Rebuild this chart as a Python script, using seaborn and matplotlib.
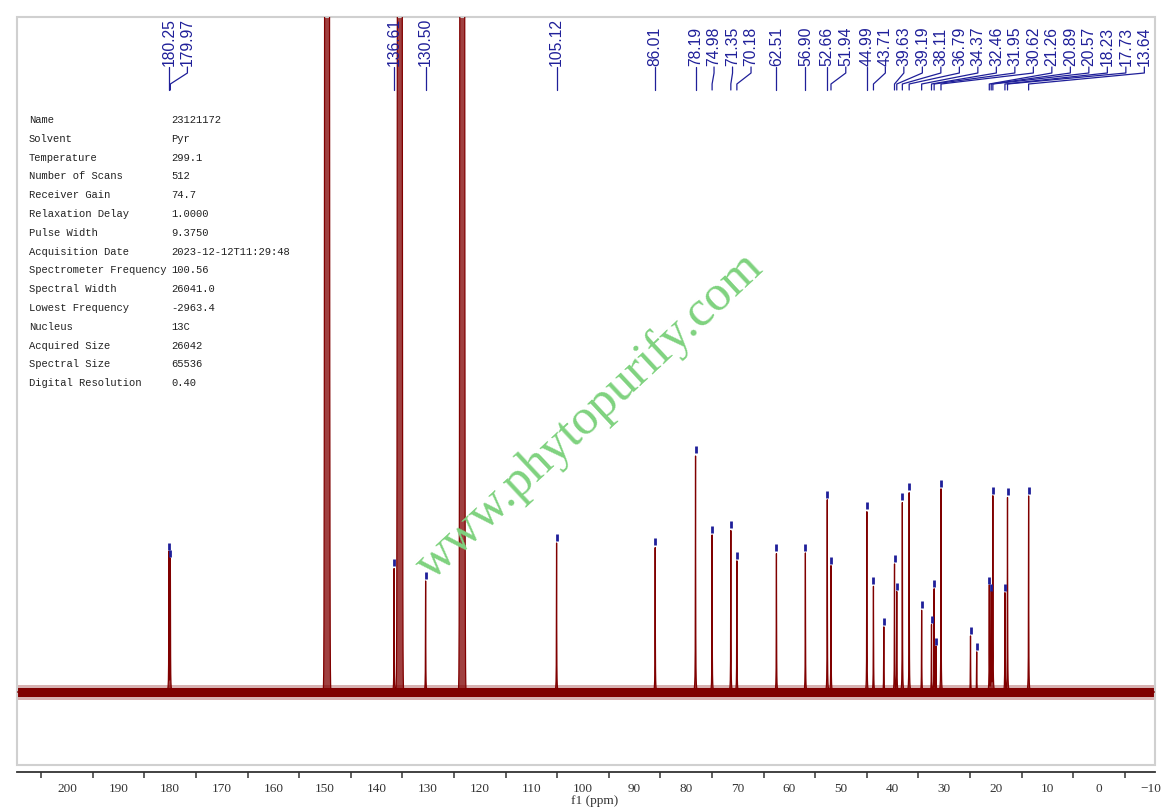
import numpy as np
import pandas as pd
import seaborn as sns
import matplotlib.pyplot as plt
import matplotlib.transforms as mtransforms
from matplotlib.patches import Rectangle

# picked 13C peaks (ppm) and heights above the baseline (arbitrary units)
label_shifts = [180.25, 179.97, 136.61, 130.50, 105.12, 86.01, 78.19, 74.98, 71.35, 70.18,
                62.51, 56.90, 52.66, 51.94, 44.99, 43.71, 39.63, 39.19, 38.11, 36.79,
                34.37, 32.46, 31.95, 30.62, 21.26, 20.89, 20.57, 18.23, 17.73, 13.64]
label_heights = [140, 133, 124, 111, 149, 145, 237, 157, 162, 131,
                 139, 139, 192, 126, 181, 106, 128, 100, 190, 200,
                 82, 67, 103, 203, 106, 99, 196, 99, 195, 196]

# small picked peaks that carry no label
minor_shifts = [41.70, 31.60, 24.90, 23.70]
minor_heights = [65, 45, 56, 40]

# pyridine-d5 solvent triplets (far off scale)
solvent_shifts = [149.6, 135.5, 123.4]
solvent_heights = [3000, 3000, 3000]

param_names = ["Name", "Solvent", "Temperature", "Number of Scans", "Receiver Gain",
               "Relaxation Delay", "Pulse Width", "Acquisition Date",
               "Spectrometer Frequency", "Spectral Width", "Lowest Frequency",
               "Nucleus", "Acquired Size", "Spectral Size", "Digital Resolution"]
param_values = ["23121172", "Pyr", "299.1", "512", "74.7", "1.0000", "9.3750",
                "2023-12-12T11:29:48", "100.56", "26041.0", "-2963.4", "13C",
                "26042", "65536", "0.40"]

RED = "#800000"
BLUE = "#1f1f99"
NOISE = 4.5
HWHM = 0.03
J_CD = 0.273

# build the spectrum from the peak list
ppm = np.arange(-10.9, 209.8, 0.004)
intensity = np.zeros_like(ppm)
for s, h in zip(label_shifts + minor_shifts, label_heights + minor_heights):
    intensity += h / (1 + ((ppm - s) / HWHM) ** 2)
for s, h in zip(solvent_shifts, solvent_heights):
    for d in (-J_CD, 0, J_CD):
        intensity += h * np.exp(-0.5 * ((ppm - s - d) / 0.12) ** 2)
spec = pd.DataFrame({"ppm": ppm, "intensity": intensity})

sns.set_theme(style="white")
plt.rcParams["font.family"] = ["Liberation Sans", "DejaVu Sans"]

W, H = 1161, 808
fig, ax = plt.subplots(figsize=(W / 100, H / 100), dpi=100)
fig.subplots_adjust(left=17 / W, right=1155 / W, bottom=1 - 765 / H, top=1 - 17 / H)

x_left = (1099 - 17) / 5.16
x_right = (1099 - 1155) / 5.16
ax.set_xlim(x_left, x_right)
ax.set_ylim(-73, 675)

# baseline noise band
ax.fill_between(ppm, -7.5, 7.5, color=RED, alpha=0.3, lw=0)
ax.fill_between(ppm, -NOISE, NOISE, color=RED, lw=0)
ax.fill_between(ppm, 0, intensity, color=RED, alpha=0.75, lw=0)
sns.lineplot(data=spec, x="ppm", y="intensity", color=RED, lw=0.9,
             estimator=None, sort=False, legend=False, ax=ax)

# peak-pick markers
for s, h in zip(label_shifts + minor_shifts, label_heights + minor_heights):
    ax.plot([s, s], [h + 2, h + 9], color=BLUE, lw=2, solid_capstyle="butt")

# labels along the top, pushed apart left to right
trans = mtransforms.blended_transform_factory(ax.transData, ax.transAxes)
def yfrac(p):
    return (765 - p) / 748

gap = 18.5 / 5.16
label_x = []
for s in label_shifts:
    lx = s if not label_x else min(s, label_x[-1] - gap)
    label_x.append(lx)

for s, lx in zip(label_shifts, label_x):
    ax.text(lx, yfrac(66), f"{s:.2f}", rotation=90, ha="center", va="bottom",
            fontsize=11.3, color=BLUE, transform=trans)
    ax.plot([lx, lx, s, s], [yfrac(67), yfrac(73), yfrac(84), yfrac(90)],
            color=BLUE, lw=0.9, transform=trans, clip_on=False)

# frame and axis
for side in ["left", "right", "top"]:
    ax.spines[side].set_visible(False)
ax.spines["bottom"].set_position(("outward", 5))
ax.spines["bottom"].set_color("#333333")
ax.spines["bottom"].set_linewidth(1.3)
ax.add_patch(Rectangle((0, 0), 1, 1, transform=ax.transAxes, fill=False,
                       ec="#d0d0d0", lw=1.5, clip_on=False))
ax.set_yticks([])
ax.set_xticks(np.arange(200, -11, -10))
ax.set_xticks(np.arange(205, -11, -5), minor=True)
ax.tick_params(axis="x", which="major", direction="out", length=6, width=1.1,
               color="#333333", pad=2, labelsize=9.5, labelcolor="#333333")
ax.tick_params(axis="x", which="minor", direction="out", length=4, width=1.1,
               color="#333333", bottom=True)
for t in ax.get_xticklabels():
    t.set_family("Liberation Serif")
ax.set_xlabel("f1 (ppm)", fontsize=9.5, family="Liberation Serif", color="#333333", labelpad=2)
ax.xaxis.set_label_coords(0.508, -0.04)
ax.set_ylabel("")

# acquisition parameters
for i, (n, v) in enumerate(zip(param_names, param_values)):
    y = 1 - (120 + i * 18.8) / H
    fig.text(29 / W, y, n, fontsize=7.6, family="Liberation Mono", color="#222222", va="center")
    fig.text(171 / W, y, v, fontsize=7.6, family="Liberation Mono", color="#222222", va="center")

# watermark
fig.text(598 / W, 1 - 425 / H, "www.phytopurify.com", fontsize=36.5, family="Liberation Serif",
         color="#7fd27f", rotation=43, rotation_mode="anchor", ha="center", va="baseline")

fig.savefig("out.png", dpi=100)
